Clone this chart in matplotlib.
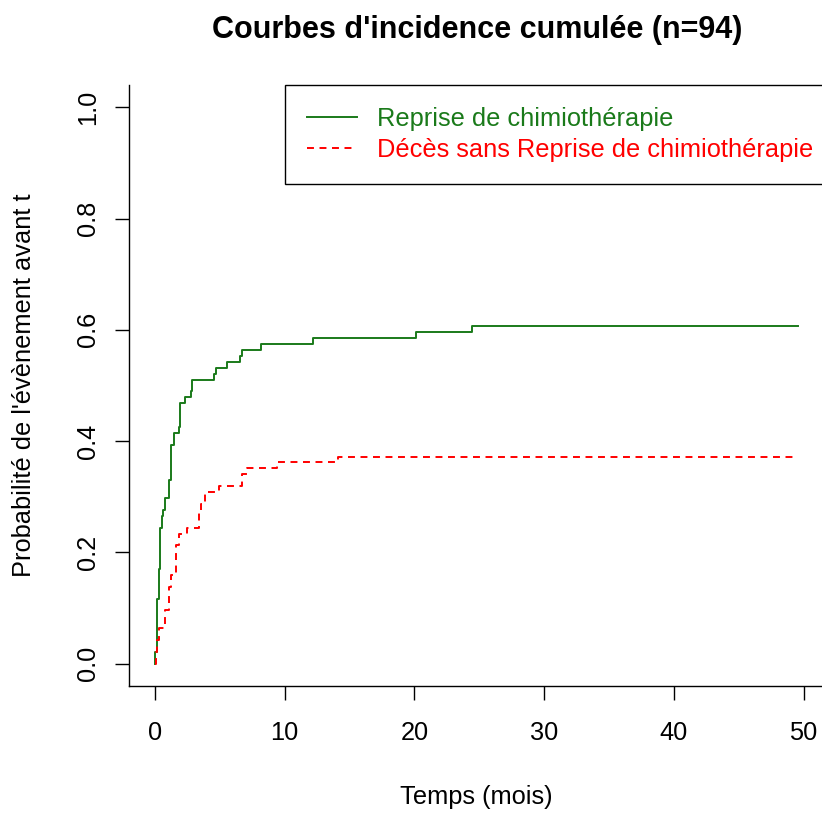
import matplotlib
matplotlib.use("Agg")
import matplotlib.pyplot as plt
import numpy as np

plt.rcParams['font.family'] = ['Liberation Sans', 'DejaVu Sans']
plt.rcParams['lines.scale_dashes'] = False

n_patients = 94
t_end = 49.6

# Reprise de chimiothérapie (cumulative incidence, counts out of 94)
reprise_times = [0.0, 0.02, 0.13, 0.28, 0.41, 0.54, 0.64, 0.77, 1.05, 1.21, 1.49, 1.85,
                 1.95, 2.31, 2.75, 2.83, 4.57, 4.70, 5.58, 6.55, 6.68, 8.17, 12.2,
                 20.1, 24.4, t_end]
reprise_counts = [0, 2, 11, 16, 23, 25, 26, 28, 31, 37, 39, 40,
                  44, 45, 46, 48, 49, 50, 51, 52, 53, 54, 55,
                  56, 57, 57]

# Décès sans reprise de chimiothérapie
deces_times = [0.0, 0.08, 0.18, 0.30, 0.77, 1.08, 1.26, 1.60, 1.85, 2.49, 3.39, 3.55,
               3.86, 4.96, 6.68, 7.07, 9.38, 14.1, t_end]
deces_counts = [0, 2, 4, 6, 9, 13, 15, 20, 22, 23, 26, 27,
                29, 30, 32, 33, 34, 35, 35]

labels = ["Reprise de chimiothérapie", "Décès sans Reprise de chimiothérapie"]
colors = ["#1a7a1a", "#ff0000"]
title = "Courbes d'incidence cumulée (n=94)"
xlabel = "Temps (mois)"
ylabel = "Probabilité de l'évènement avant t"
xticks = [0, 10, 20, 30, 40, 50]
yticks = [0.0, 0.2, 0.4, 0.6, 0.8, 1.0]

W, H = 822, 814
fig = plt.figure(figsize=(W / 100, H / 100), dpi=100)
left_px, right_px, top_px, bottom_px = 129.3, 824.1, 85, 686
aw, ah = right_px - left_px, bottom_px - top_px
ax = fig.add_axes([left_px / W, (H - bottom_px) / H, aw / W, ah / H])

fs = 18.3
ax.step(reprise_times, np.array(reprise_counts) / n_patients, where='post',
        color=colors[0], lw=1.4, label=labels[0])
ax.step(deces_times, np.array(deces_counts) / n_patients, where='post',
        color=colors[1], lw=1.4, dashes=(5, 4), label=labels[1])

ax.set_xlim(-0.04 * t_end, 1.04 * t_end)
ax.set_ylim(-0.04, 1.04)
ax.set_xticks(xticks)
ax.set_yticks(yticks)
ax.set_xticklabels([str(v) for v in xticks])
ax.set_yticklabels([f"{v:.1f}" for v in yticks], rotation=90, ha='center', va='center')

for s in ['top', 'right']:
    ax.spines[s].set_visible(False)
for s in ['left', 'bottom']:
    ax.spines[s].set_linewidth(1.0)
ax.tick_params(axis='both', length=10, width=1.0, labelsize=fs, colors='black')
ax.tick_params(axis='x', pad=15)
ax.tick_params(axis='y', pad=20)

ax.set_xlabel(xlabel, fontsize=fs, va='center')
ax.xaxis.set_label_coords(0.5, (bottom_px - 797) / ah)
ax.set_ylabel(ylabel, fontsize=fs, va='center')
ax.yaxis.set_label_coords((23.5 - left_px) / aw, 0.5)

ax.set_title(title, fontsize=22, fontweight='bold', va='center', pad=0,
             y=(bottom_px - 30) / ah)

leg_x0 = (285 - left_px) / aw
leg = ax.legend(loc='upper left', bbox_to_anchor=(leg_x0, 0, 1 - leg_x0, 1), mode='expand',
                borderaxespad=0, frameon=True, fancybox=False, edgecolor='black',
                framealpha=1, fontsize=fs, handlelength=1.97, handletextpad=0.79,
                borderpad=0.87, labelspacing=0.27, labelcolor='linecolor')
leg.get_frame().set_linewidth(1.0)

fig.savefig("out.png", dpi=100)
